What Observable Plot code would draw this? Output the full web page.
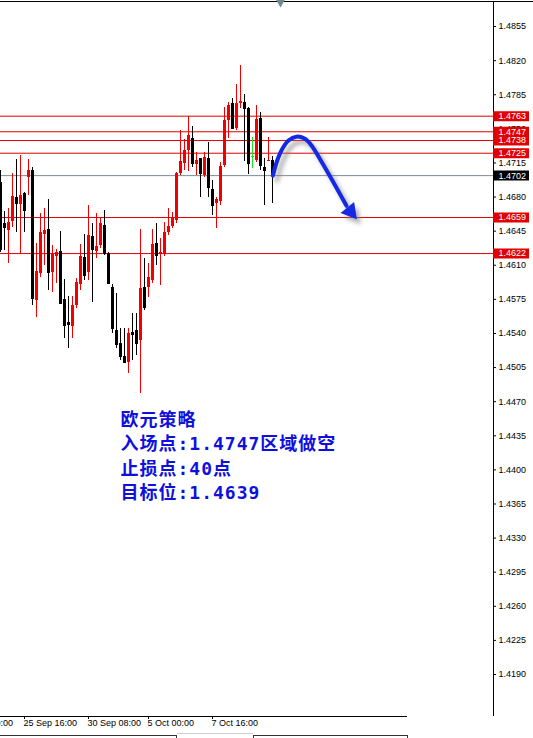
<!DOCTYPE html>
<html>
<head>
<meta charset="utf-8">
<script src="https://cdn.jsdelivr.net/npm/d3@7"></script>
<script src="https://cdn.jsdelivr.net/npm/@observablehq/plot@0.6"></script>
<style>
  html, body { margin: 0; padding: 0; background: #fff; }
  body { width: 533px; height: 738px; overflow: hidden; position: relative; }
  #chart svg { display: block; }
  .tab { position: absolute; box-sizing: border-box; }
</style>
</head>
<body>
<div id="chart"></div>
<div class="tab" style="left:0;top:735px;width:177px;height:3px;border-top:1px solid #333;border-right:1px solid #333;"></div>
<div class="tab" style="left:177px;top:733px;width:76px;height:1px;background:#d0d0d0;"></div>
<div class="tab" style="left:253px;top:735px;width:155px;height:3px;border-top:1px solid #333;border-left:1px solid #333;border-right:1px solid #333;"></div>
<script>
// EURUSD H4 bars, oldest first (bar index = slot on the time axis)
const opens  = [1.4695, 1.4653, 1.4646, 1.4655, 1.4680, 1.4672, 1.4684, 1.4700, 1.4707, 1.4574,
                1.4602, 1.4642, 1.4647, 1.4603, 1.4619, 1.4624, 1.4575, 1.4551, 1.4547, 1.4569,
                1.4590, 1.4618, 1.4603, 1.4640, 1.4624, 1.4630, 1.4651, 1.4622, 1.4587, 1.4543,
                1.4530, 1.4516, 1.4510, 1.4541, 1.4543, 1.4533, 1.4587, 1.4587, 1.4594, 1.4632,
                1.4621, 1.4621, 1.4644, 1.4650, 1.4656, 1.4704, 1.4714, 1.4728, 1.4740, 1.4713,
                1.4720, 1.4702, 1.4720, 1.4688, 1.4673, 1.4675, 1.4712, 1.4759, 1.4776, 1.4750,
                1.4776, 1.4777, 1.4771, 1.4722, 1.4718, 1.4761, 1.4710, 1.4716, 1.4718];
const highs  = [1.4707, 1.4665, 1.4668, 1.4704, 1.4719, 1.4723, 1.4685, 1.4719, 1.4710, 1.4632,
                1.4663, 1.4668, 1.4677, 1.4630, 1.4626, 1.4645, 1.4595, 1.4578, 1.4578, 1.4596,
                1.4631, 1.4642, 1.4671, 1.4653, 1.4663, 1.4658, 1.4666, 1.4623, 1.4590, 1.4581,
                1.4545, 1.4545, 1.4545, 1.4560, 1.4560, 1.4647, 1.4617, 1.4612, 1.4647, 1.4653,
                1.4637, 1.4654, 1.4668, 1.4664, 1.4705, 1.4748, 1.4739, 1.4763, 1.4752, 1.4726,
                1.4720, 1.4726, 1.4736, 1.4697, 1.4680, 1.4715, 1.4772, 1.4777, 1.4781, 1.4796,
                1.4815, 1.4785, 1.4772, 1.4741, 1.4774, 1.4767, 1.4720, 1.4741, 1.4722];
const lows   = [1.4623, 1.4625, 1.4612, 1.4649, 1.4644, 1.4621, 1.4644, 1.4682, 1.4569, 1.4556,
                1.4597, 1.4610, 1.4584, 1.4582, 1.4591, 1.4570, 1.4535, 1.4525, 1.4535, 1.4566,
                1.4584, 1.4594, 1.4594, 1.4572, 1.4617, 1.4627, 1.4620, 1.4590, 1.4540, 1.4525,
                1.4512, 1.4509, 1.4499, 1.4512, 1.4517, 1.4478, 1.4564, 1.4577, 1.4591, 1.4610,
                1.4589, 1.4619, 1.4641, 1.4648, 1.4653, 1.4702, 1.4707, 1.4706, 1.4710, 1.4702,
                1.4680, 1.4700, 1.4680, 1.4661, 1.4648, 1.4671, 1.4710, 1.4740, 1.4749, 1.4748,
                1.4771, 1.4717, 1.4703, 1.4709, 1.4715, 1.4707, 1.4671, 1.4716, 1.4673];
const closes = [1.4626, 1.4649, 1.4654, 1.4681, 1.4673, 1.4682, 1.4666, 1.4707, 1.4576, 1.4604,
                1.4644, 1.4646, 1.4603, 1.4621, 1.4623, 1.4571, 1.4548, 1.4549, 1.4569, 1.4592,
                1.4619, 1.4600, 1.4641, 1.4626, 1.4629, 1.4653, 1.4622, 1.4591, 1.4545, 1.4529,
                1.4516, 1.4510, 1.4540, 1.4539, 1.4530, 1.4586, 1.4567, 1.4597, 1.4631, 1.4620,
                1.4623, 1.4644, 1.4650, 1.4658, 1.4704, 1.4716, 1.4728, 1.4743, 1.4714, 1.4718,
                1.4704, 1.4721, 1.4690, 1.4671, 1.4677, 1.4711, 1.4759, 1.4774, 1.4750, 1.4776,
                1.4778, 1.4771, 1.4714, 1.4722, 1.4760, 1.4712, 1.4707, 1.4718, 1.4702];

// Horizontal price levels drawn across the chart, with their axis tags
const levels = [1.4763, 1.4747, 1.4738, 1.4725, 1.4659, 1.4622];
const bidPrice = 1.4702;

// Price scale labels on the right
const priceTicks = [1.4855, 1.4820, 1.4785, 1.4750, 1.4715, 1.4680, 1.4645, 1.4610, 1.4575, 1.4540,
                    1.4505, 1.4470, 1.4435, 1.4400, 1.4365, 1.4330, 1.4295, 1.4260, 1.4225, 1.4190];

// Time scale labels (bar index where each label starts)
const timeTickBars  = [-10, 6, 22, 37, 53];
const timeTickTexts = ["23 Sep 00:00", "25 Sep 16:00", "30 Sep 08:00", "5 Oct 00:00", "7 Oct 16:00"];

// Forecast arrow path (bar index, price) and its head
const arrowBars   = [68.1, 69.1, 70.4, 72, 74, 76, 77.75, 80, 83.25, 86.5];
const arrowPrices = [1.4702, 1.47165, 1.4729, 1.4738, 1.4742, 1.4740, 1.4733, 1.4718, 1.4695, 1.4671];
const arrowHead   = {bar: 87.5, price: 1.46652};

// Strategy note
const noteLines = ["欧元策略", "入场点:1.4747区域做空", "止损点:40点", "目标位:1.4639"];
const noteAnchor = {bar: 30, price: 1.4463};

// Chart-shift marker on the top edge
const shiftBar = 70;

// ---- layout / styling ----
const W = 533, H = 738;
const mTop = 1, mBottom = 22, mLeft = 0, mRight = 40;
const barPx = 4;
const xMax = (W - mLeft - mRight) / barPx;          // bars visible across the plot
const yDomain = [1.41469, 1.48807];
const pricePerPx = (yDomain[1] - yDomain[0]) / (H - mTop - mBottom);

const bullColor = "#f00000", bearColor = "#000000", dojiColor = "#22e022";
const levelColor = "#e00000", bidColor = "#7a8c99";
const blue = "#1428e6", noteBlue = "#1010dc";

const bars = opens.map((o, i) => ({i, o, h: highs[i], l: lows[i], c: closes[i]}));
const barColor = d => d.c > d.o ? bullColor : d.c < d.o ? bearColor : dojiColor;

const arrowPts = arrowBars.map((b, k) => ({b, p: arrowPrices[k]}));
const tags = levels.map(v => ({v, bg: levelColor})).concat([{v: bidPrice, bg: "#000"}]).reverse();
const timeTicks = timeTickBars.map((b, k) => ({b, t: timeTickTexts[k]}));

const fmt = d3.format(".4f");
const halfBody = 0.375;

const chart = Plot.plot({
  width: W, height: H,
  marginTop: mTop, marginBottom: mBottom, marginLeft: mLeft, marginRight: mRight,
  x: {domain: [0, xMax], axis: null},
  y: {domain: yDomain, axis: null},
  style: {fontFamily: "'Liberation Sans', Arial, sans-serif", fontSize: "9px", background: "#fff"},
  marks: [
    // level lines and bid line
    Plot.ruleY(levels, {stroke: levelColor, strokeWidth: 1}),
    Plot.ruleY([bidPrice], {stroke: bidColor, strokeWidth: 1}),
    // candles: wicks then bodies
    Plot.ruleX(bars, {x: "i", y1: "l", y2: "h", stroke: barColor, strokeWidth: 1, shapeRendering: "crispEdges"}),
    Plot.rect(bars, {x1: d => d.i - halfBody, x2: d => d.i + halfBody, y1: "o", y2: "c", fill: barColor, shapeRendering: "crispEdges"}),
    Plot.ruleY(bars, {y: "c", x1: d => d.i - halfBody, x2: d => d.i + halfBody, stroke: barColor, shapeRendering: "crispEdges"}),
    // forecast arrow: soft shadow, then the curve and head
    Plot.line(arrowPts, {x: "b", y: "p", curve: "catmull-rom", stroke: "#808080", strokeOpacity: 0.6, strokeWidth: 4.5, dx: 4, dy: 5, ariaDescription: "arrow-shadow"}),
    Plot.dot([arrowHead], {x: "bar", y: "price", symbol: "triangle", r: 6.5, rotate: 141, fill: "#808080", fillOpacity: 0.6, dx: 4, dy: 5, ariaDescription: "arrow-shadow"}),
    Plot.line(arrowPts, {x: "b", y: "p", curve: "catmull-rom", stroke: blue, strokeWidth: 4, strokeLinecap: "round"}),
    Plot.dot([arrowHead], {x: "bar", y: "price", symbol: "triangle", r: 6.5, rotate: 141, fill: blue}),
    // note
    Plot.text([noteAnchor], {x: "bar", y: "price", text: () => noteLines.join("\n"), textAnchor: "start", lineAnchor: "top",
      lineHeight: 1.36, fontSize: 18, fontWeight: "bold", fontFamily: "'DejaVu Sans Mono', 'Noto Sans CJK SC', sans-serif",
      fill: noteBlue, ariaDescription: "note"}),
    // frame: top edge, price axis edge, time axis edge
    Plot.ruleY([yDomain[1]], {x1: 0, x2: xMax + mRight / barPx, stroke: "#000"}),
    Plot.ruleX([xMax], {stroke: "#000"}),
    Plot.ruleY([yDomain[0]], {x1: 0, x2: 407 / barPx, stroke: "#000"}),
    // price axis ticks and labels
    Plot.ruleY(priceTicks, {x1: xMax, x2: xMax + 3 / barPx, stroke: "#000"}),
    Plot.text(priceTicks, {y: d => d, frameAnchor: "right", dx: 5, textAnchor: "start", text: fmt, fill: "#000"}),
    // level tags on the price axis
    Plot.ruleY(tags, {y: "v", x1: xMax, x2: xMax + 36 / barPx, stroke: "bg", strokeWidth: 10}),
    Plot.text(tags, {y: "v", frameAnchor: "right", dx: 5, textAnchor: "start", text: d => fmt(d.v), fill: "#fff"}),
    // time axis ticks and labels
    Plot.ruleX(timeTicks, {x: "b", y1: yDomain[0], y2: yDomain[0] - 3 * pricePerPx, stroke: "#000"}),
    Plot.text(timeTicks, {x: "b", text: "t", frameAnchor: "bottom", dy: 9, dx: -1, textAnchor: "start", fill: "#000"}),
    // chart shift marker
    Plot.dot([shiftBar], {x: d => d, y: yDomain[1], symbol: "triangle", r: 3.2, rotate: 180, fill: "#6f8a8f", dy: 1})
  ]
});

chart.querySelectorAll('[aria-description="arrow-shadow"]').forEach(g => g.style.filter = "blur(2px)");
chart.querySelectorAll('[aria-description="note"]').forEach(g => g.setAttribute("letter-spacing", "1"));
document.getElementById("chart").appendChild(chart);
</script>
</body>
</html>
